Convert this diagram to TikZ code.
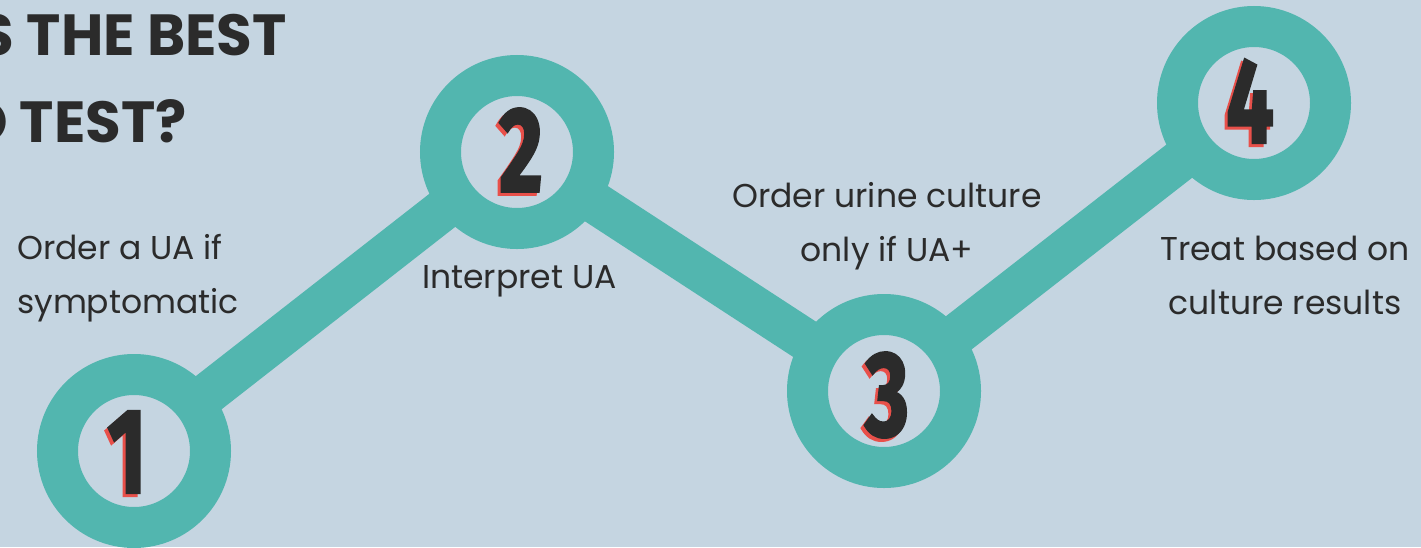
\documentclass[tikz,border=0pt]{standalone}
\usepackage{fontspec}
\setmainfont{Poppins}
\newfontfamily\titlefont{Poppins}
\newfontfamily\numfont{Fira Sans}[UprightFeatures={FakeBold=2}, BoldFeatures={FakeBold=2.5}]
\definecolor{bg}{HTML}{C5D5E1}
\definecolor{teal}{HTML}{52B6AF}
\definecolor{ink}{HTML}{2B2B2B}
\definecolor{shadowred}{HTML}{E8504A}
\tikzset{
  ring/.style={circle, draw=teal, line width=41pt, minimum size=153pt, inner sep=0pt, outer sep=0pt},
  link/.style={draw=teal, line width=42pt},
  label/.style={text=ink, font=\fontsize{33}{54}\selectfont, inner sep=0pt},
  title/.style={text=ink, font=\titlefont\bfseries\fontsize{58}{60}\selectfont, inner sep=0pt},
  numshadow/.style={text=shadowred, font=\numfont\bfseries\fontsize{120}{120}\selectfont, inner sep=0pt, xscale=0.7},
  num/.style={text=ink, font=\numfont\bfseries\fontsize{120}{120}\selectfont, inner sep=0pt, xscale=0.7}
}
\begin{document}
\begin{tikzpicture}[x=1pt,y=-1pt]
\fill[bg] (0,0) rectangle (1421,547);
\useasboundingbox (0,0) rectangle (1421,547);
\begin{scope}
\clip (0,0) rectangle (1421,547);
% title
\node[title, anchor=base east] (t1) at (287,55) {IS THE BEST};
\node[title, anchor=base east] (t2) at (187,142) {TO TEST?};
% rings
\node[ring] (r1) at (134,451) {};
\node[ring] (r2) at (517,152) {};
\node[ring] (r3) at (884,391) {};
\node[ring] (r4) at (1254,103) {};
\draw[link] (r1) -- (r2);
\draw[link] (r2) -- (r3);
\draw[link] (r3) -- (r4);
% numbers
\node[numshadow] (s1) at (124,455) {1};
\node[num] (n1) at (127,452) {1};
\node[numshadow] (s2) at (518,153) {2};
\node[num] (n2) at (521,150) {2};
\node[numshadow] (s3) at (884,398) {3};
\node[num] (n3) at (887,395) {3};
\node[numshadow] (s4) at (1247,104) {4};
\node[num] (n4) at (1250,101) {4};
% labels (base anchor = last line)
\node[label, anchor=base west, align=left] (l1) at (17,313) {Order a UA if\\symptomatic};
\node[label, anchor=base west] (l2) at (422,288) {Interpret UA};
\node[label, anchor=base, align=center] (l3) at (887,261) {Order urine culture\\only if UA+};
\node[label, anchor=base, align=center] (l4) at (1285,314) {Treat based on\\culture results};
\end{scope}
\end{tikzpicture}
\end{document}
